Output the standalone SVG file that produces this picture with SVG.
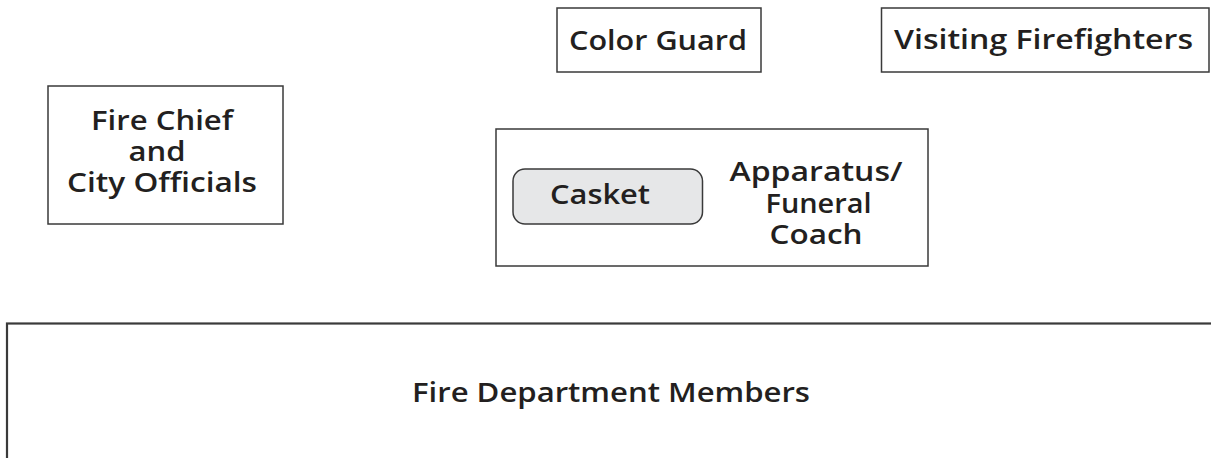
<svg xmlns="http://www.w3.org/2000/svg" width="1211" height="458" viewBox="0 0 1211 458">
  <style>
    .box { fill: #ffffff; stroke: #3a3a3a; stroke-width: 1.5; }
    .casket { fill: #e6e7e8; stroke: #3a3a3a; stroke-width: 1.5; }
    .big { fill: #ffffff; stroke: #3a3a3a; stroke-width: 2.2; }
    .lbl { font-family: "Open Sans", "Noto Sans", "Liberation Sans", sans-serif; font-weight: 600; font-size: 27px; fill: #231f20; text-anchor: middle; }
  </style>
  <rect width="1211" height="458" fill="#ffffff"/>
  <g id="connectors"></g>
  <g id="color-guard">
    <rect class="box" x="557" y="8" width="204" height="64"/>
    <text class="lbl" x="658" y="50" textLength="178" lengthAdjust="spacingAndGlyphs">Color Guard</text>
  </g>
  <g id="visiting-firefighters">
    <rect class="box" x="881.5" y="8" width="327.5" height="64"/>
    <text class="lbl" x="1043.5" y="49" textLength="299" lengthAdjust="spacingAndGlyphs">Visiting Firefighters</text>
  </g>
  <g id="fire-chief">
    <rect class="box" x="48" y="86" width="235" height="138"/>
    <text class="lbl" x="162" y="130" textLength="142" lengthAdjust="spacingAndGlyphs">Fire Chief</text>
    <text class="lbl" x="157" y="161" textLength="57" lengthAdjust="spacingAndGlyphs">and</text>
    <text class="lbl" x="162" y="192" textLength="190" lengthAdjust="spacingAndGlyphs">City Officials</text>
  </g>
  <g id="apparatus">
    <rect class="box" x="496" y="129" width="432" height="137"/>
    <text class="lbl" x="816" y="181" textLength="173" lengthAdjust="spacingAndGlyphs">Apparatus/</text>
    <text class="lbl" x="818.5" y="213" textLength="106" lengthAdjust="spacingAndGlyphs">Funeral</text>
    <text class="lbl" x="816" y="244" textLength="93" lengthAdjust="spacingAndGlyphs">Coach</text>
  </g>
  <g id="casket">
    <rect class="casket" x="513" y="169" width="189.5" height="55" rx="12" ry="12"/>
    <text class="lbl" x="600" y="204" textLength="100" lengthAdjust="spacingAndGlyphs">Casket</text>
  </g>
  <g id="fire-department-members">
    <rect class="big" x="7" y="323.5" width="1220" height="150"/>
    <text class="lbl" x="611" y="402" textLength="398" lengthAdjust="spacingAndGlyphs">Fire Department Members</text>
  </g>
</svg>
